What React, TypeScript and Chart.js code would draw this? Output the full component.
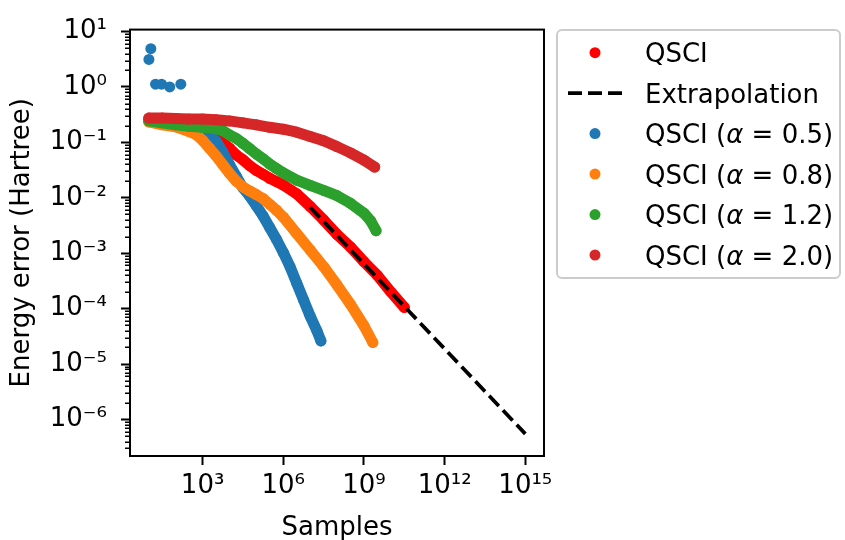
import { useEffect, useRef } from "react";
import { Chart, registerables } from "chart.js";

Chart.register(...registerables);

const FONT = "DejaVu Sans";

// Axis ticks
const xTickValues = [1e3, 1e6, 1e9, 1e12, 1e15];
const xTickLabels = ["10³", "10⁶", "10⁹", "10¹²", "10¹⁵"];
const yTickValues = [1e1, 1e0, 1e-1, 1e-2, 1e-3, 1e-4, 1e-5, 1e-6];
const yTickLabels = ["10¹", "10⁰", "10⁻¹", "10⁻²", "10⁻³", "10⁻⁴", "10⁻⁵", "10⁻⁶"];
const yMinorSubs = [2, 3, 4, 5, 6, 7, 8, 9];

const xMin = 2.0;
const xMax = 4.95e15;
const yMin = 2.19e-7;
const yMax = 10.84;

// QSCI (red)
const qsciSamples = [1e1, 3.16e1, 1e2, 3.16e2, 1e3, 1.78e3, 3.16e3, 5.62e3, 1e4, 1.78e4, 3.16e4, 5.62e4, 1e5, 1.78e5, 3.16e5, 5.62e5, 1e6, 3.16e6, 1e7, 3.16e7, 1e8, 3.16e8, 1e9, 3.16e9, 1e10, 3.16e10];
const qsciError = [0.254, 0.234, 0.216, 0.2, 0.177, 0.15, 0.123, 0.1, 0.0789, 0.0594, 0.0485, 0.0381, 0.0311, 0.0265, 0.0225, 0.0195, 0.017, 0.0118, 0.007, 0.00398, 0.00217, 0.00129, 0.000701, 0.000398, 0.0002, 0.000105];

// Extrapolation (dashed)
const extrapSamples = [1e7, 1e15];
const extrapError = [0.00676, 5.5e-7];

// QSCI (alpha = 0.5): sparse early points + dense run
const a05SparseSamples = [10.1, 11.9, 17.8, 29.9, 60, 155];
const a05SparseError = [3.14, 4.9, 1.12, 1.12, 1.0, 1.12];
const a05Samples = [178, 316, 562, 1e3, 1.78e3, 3.16e3, 5.62e3, 1e4, 1.78e4, 3.16e4, 5.62e4, 1e5, 1.78e5, 3.16e5, 5.62e5, 1e6, 1.78e6, 3.16e6, 5.62e6, 1e7, 1.78e7, 2.51e7];
const a05Error = [0.207, 0.191, 0.177, 0.157, 0.133, 0.105, 0.0671, 0.0398, 0.0245, 0.0151, 0.0107, 0.00714, 0.00468, 0.00288, 0.00177, 0.00103, 0.000573, 0.000288, 0.000145, 7.31e-5, 3.99e-5, 2.61e-5];

// QSCI (alpha = 0.8)
const a08Samples = [1e1, 3.16e1, 1e2, 3.16e2, 5.62e2, 1e3, 1.78e3, 3.16e3, 5.62e3, 1e4, 1.78e4, 3.16e4, 5.62e4, 1e5, 1.78e5, 3.16e5, 5.62e5, 1e6, 3.16e6, 1e7, 3.16e7, 1e8, 3.16e8, 1e9, 2.14e9];
const a08Error = [0.234, 0.207, 0.191, 0.157, 0.139, 0.109, 0.0789, 0.057, 0.0398, 0.0276, 0.02, 0.0157, 0.0133, 0.0114, 0.00966, 0.00759, 0.00596, 0.00449, 0.00226, 0.00114, 0.000573, 0.000266, 0.000119, 4.9e-5, 2.45e-5];

// QSCI (alpha = 1.2)
const a12Samples = [1e1, 3.16e1, 1e2, 3.16e2, 1e3, 3.16e3, 5.62e3, 1e4, 1.78e4, 3.16e4, 5.62e4, 1e5, 1.78e5, 3.16e5, 5.62e5, 1e6, 3.16e6, 1e7, 3.16e7, 1e8, 3.16e8, 1e9, 1.78e9, 2.82e9];
const a12Error = [0.245, 0.225, 0.207, 0.195, 0.187, 0.177, 0.163, 0.136, 0.118, 0.0964, 0.0773, 0.0618, 0.0506, 0.0405, 0.0337, 0.0282, 0.0208, 0.0167, 0.0136, 0.0109, 0.00794, 0.00527, 0.00382, 0.00255];

// QSCI (alpha = 2.0)
const a20Samples = [1e1, 3.16e1, 1e2, 3.16e2, 1e3, 3.16e3, 1e4, 3.16e4, 1e5, 3.16e5, 1e6, 3.16e6, 1e7, 3.16e7, 1e8, 3.16e8, 1e9, 2.51e9];
const a20Error = [0.275, 0.275, 0.269, 0.263, 0.263, 0.257, 0.244, 0.225, 0.207, 0.187, 0.173, 0.153, 0.128, 0.107, 0.0838, 0.0646, 0.0479, 0.0359];

const legendLabels = ["QSCI", "Extrapolation", "QSCI (α = 0.5)", "QSCI (α = 0.8)", "QSCI (α = 1.2)", "QSCI (α = 2.0)"];
const legendColors = ["#ff0000", "#000000", "#1f77b4", "#ff7f0e", "#2ca02c", "#d62728"];

const MARKER_R = 5.5;

function pts(xs: number[], ys: number[]) {
  return xs.map((x, i) => ({ x, y: ys[i] }));
}

function band(label: string, xs: number[], ys: number[], color: string, order: number) {
  return {
    label,
    data: pts(xs, ys),
    showLine: true,
    borderColor: color,
    backgroundColor: color,
    borderWidth: MARKER_R * 2,
    borderJoinStyle: "round" as const,
    borderCapStyle: "round" as const,
    pointRadius: MARKER_R,
    pointBorderWidth: 0,
    pointBackgroundColor: color,
    tension: 0,
    fill: false,
    order,
  };
}

function dots(label: string, xs: number[], ys: number[], color: string, order: number) {
  return {
    label,
    data: pts(xs, ys),
    showLine: false,
    borderColor: color,
    backgroundColor: color,
    pointRadius: MARKER_R,
    pointBorderWidth: 0,
    pointBackgroundColor: color,
    order,
  };
}

const overlayPlugin = {
  id: "overlay",
  afterDraw(chart: any) {
    const { ctx, chartArea: a, scales } = chart;
    const ys = scales.y;
    ctx.save();

    // minor y ticks
    ctx.strokeStyle = "#000";
    ctx.lineWidth = 1.5;
    for (let d = -8; d <= 1; d++) {
      for (const k of yMinorSubs) {
        const v = k * Math.pow(10, d);
        if (v < yMin || v > yMax) continue;
        const py = Math.round(ys.getPixelForValue(v)) + 0.25;
        ctx.beginPath();
        ctx.moveTo(a.left - 5, py);
        ctx.lineTo(a.left, py);
        ctx.stroke();
      }
    }

    // spines
    ctx.lineWidth = 2;
    ctx.strokeStyle = "#000";
    ctx.strokeRect(a.left, a.top, a.right - a.left, a.bottom - a.top);

    // axis titles
    ctx.fillStyle = "#000";
    ctx.font = `26px "${FONT}"`;
    ctx.textAlign = "center";
    ctx.textBaseline = "alphabetic";
    ctx.fillText("Samples", (a.left + a.right) / 2, 535);
    ctx.save();
    ctx.translate(29, (a.top + a.bottom) / 2);
    ctx.rotate(-Math.PI / 2);
    ctx.fillText("Energy error (Hartree)", 0, 0);
    ctx.restore();

    // legend frame
    const lx = 557, ly = 30, lw = 283, lh = 248;
    ctx.beginPath();
    (ctx as any).roundRect(lx, ly, lw, lh, 5);
    ctx.fillStyle = "rgba(255,255,255,0.8)";
    ctx.fill();
    ctx.strokeStyle = "#cccccc";
    ctx.lineWidth = 2;
    ctx.stroke();

    const rowTop = 52.7;
    const rowStep = 40.46;
    legendLabels.forEach((label, i) => {
      const cy = rowTop + i * rowStep;
      const color = legendColors[i];
      if (i === 1) {
        ctx.save();
        ctx.strokeStyle = color;
        ctx.lineWidth = 3.75;
        ctx.setLineDash([14, 6]);
        ctx.beginPath();
        ctx.moveTo(568, cy);
        ctx.lineTo(623, cy);
        ctx.stroke();
        ctx.restore();
      } else {
        ctx.fillStyle = color;
        ctx.beginPath();
        ctx.arc(595, cy, MARKER_R, 0, Math.PI * 2);
        ctx.fill();
      }
      ctx.fillStyle = "#000";
      ctx.textAlign = "left";
      ctx.textBaseline = "alphabetic";
      let x = 645;
      const base = cy + 9.5;
      const parts = label.split("α");
      parts.forEach((p, j) => {
        ctx.font = `26px "${FONT}"`;
        ctx.fillText(p, x, base);
        x += ctx.measureText(p).width;
        if (j < parts.length - 1) {
          ctx.font = `oblique 26px "${FONT}"`;
          ctx.fillText("α", x, base);
          x += ctx.measureText("α").width;
        }
      });
    });

    ctx.restore();
  },
};

export default function App() {
  const ref = useRef<HTMLCanvasElement>(null);

  useEffect(() => {
    const tickFont = { family: FONT, size: 26 };
    const chart = new Chart(ref.current as HTMLCanvasElement, {
      type: "scatter",
      data: {
        datasets: [
          band("QSCI", qsciSamples, qsciError, "#ff0000", 6) as any,
          {
            label: "Extrapolation",
            data: pts(extrapSamples, extrapError),
            showLine: true,
            borderColor: "#000000",
            backgroundColor: "#000000",
            borderWidth: 3.75,
            borderDash: [14, 6],
            borderCapStyle: "butt",
            pointRadius: 0,
            fill: false,
            order: 5,
          },
          dots("QSCI (α = 0.5)", a05SparseSamples, a05SparseError, "#1f77b4", 4),
          band("QSCI (α = 0.5)", a05Samples, a05Error, "#1f77b4", 4),
          band("QSCI (α = 0.8)", a08Samples, a08Error, "#ff7f0e", 3),
          band("QSCI (α = 1.2)", a12Samples, a12Error, "#2ca02c", 2),
          band("QSCI (α = 2.0)", a20Samples, a20Error, "#d62728", 1),
        ],
      },
      options: {
        responsive: false,
        devicePixelRatio: 1,
        animation: false,
        layout: { padding: { left: 0, top: 17, right: 301, bottom: 0 } },
        plugins: {
          legend: { display: false },
          tooltip: { enabled: false },
        },
        scales: {
          x: {
            type: "logarithmic",
            min: xMin,
            max: xMax,
            afterFit: (s: any) => {
              s.height = 84;
            },
            afterBuildTicks: (s: any) => {
              s.ticks = xTickValues.map((v) => ({ value: v }));
            },
            ticks: {
              callback: (_v: any, i: number) => xTickLabels[i],
              font: tickFont,
              color: "#000",
              padding: 6,
              autoSkip: false,
              maxRotation: 0,
              minRotation: 0,
            },
            grid: {
              display: true,
              drawOnChartArea: false,
              drawTicks: true,
              tickLength: 9,
              tickWidth: 2,
              tickColor: "#000",
            },
            border: { display: false },
          },
          y: {
            type: "logarithmic",
            min: yMin,
            max: yMax,
            afterFit: (s: any) => {
              s.width = 130;
            },
            afterBuildTicks: (s: any) => {
              s.ticks = yTickValues.map((v) => ({ value: v }));
            },
            ticks: {
              callback: (_v: any, i: number) => yTickLabels[i],
              font: tickFont,
              color: "#000",
              padding: 14,
              autoSkip: false,
            },
            grid: {
              display: true,
              drawOnChartArea: false,
              drawTicks: true,
              tickLength: 9,
              tickWidth: 2,
              tickColor: "#000",
            },
            border: { display: false },
          },
        },
      },
      plugins: [overlayPlugin],
    } as any);
    return () => chart.destroy();
  }, []);

  return (
    <div style={{ position: "fixed", left: 0, top: 0, width: 845, height: 540, background: "#fff" }}>
      <canvas ref={ref} width={845} height={540} style={{ display: "block", width: 845, height: 540 }} />
    </div>
  );
}
